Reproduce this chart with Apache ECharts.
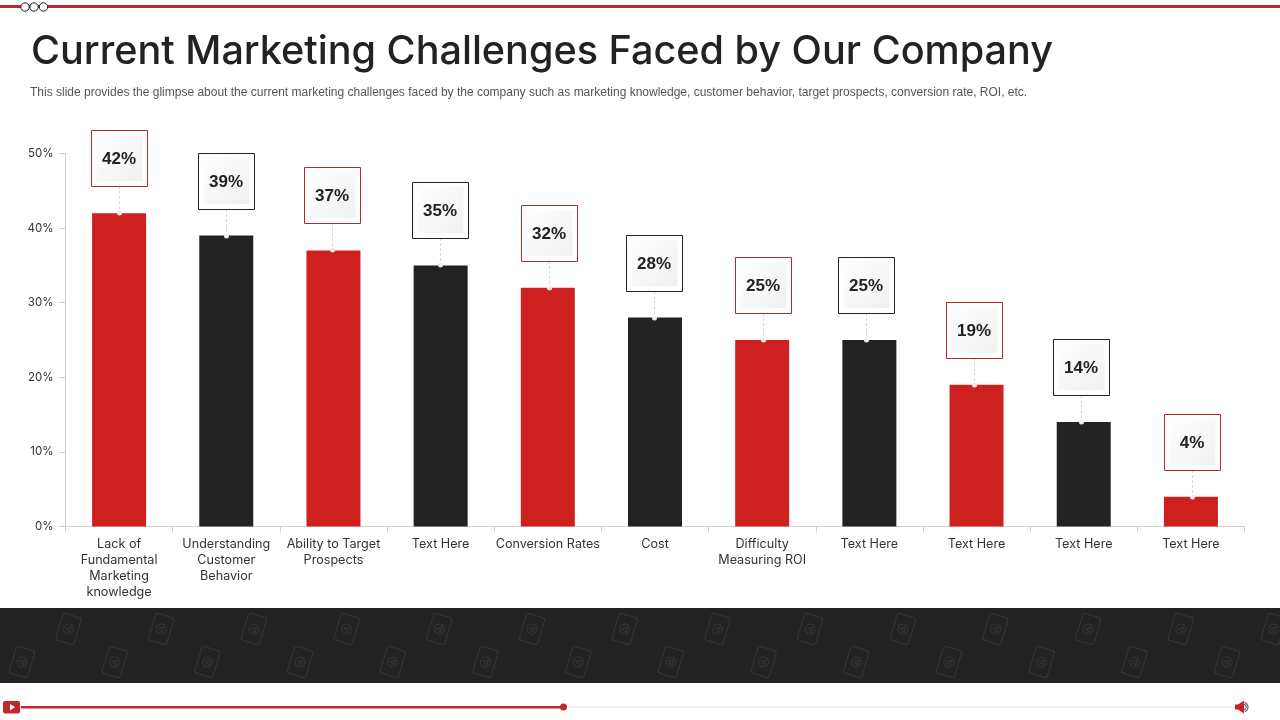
<!DOCTYPE html>
<html><head><meta charset="utf-8">
<style>html,body{margin:0;padding:0;background:#fff}#c{width:1280px;height:720px}</style>
<script src="https://cdn.jsdelivr.net/npm/echarts@6/dist/echarts.min.js"></script>
</head><body><div id="c"></div>
<script>
const titleText = 'Current Marketing Challenges Faced by Our Company';
const subtitleText = 'This slide provides the glimpse about the current marketing challenges faced by the company such as marketing knowledge, customer behavior, target prospects, conversion rate, ROI, etc.';
const categories = ['Lack of\nFundamental\nMarketing\nknowledge','Understanding\nCustomer\nBehavior','Ability to Target\nProspects','Text Here','Conversion Rates','Cost','Difficulty\nMeasuring ROI','Text Here','Text Here','Text Here','Text Here'];
const values = [42,39,37,35,32,28,25,25,19,14,4];
const yTicks = {min:0,max:50,interval:10};

const RED='#cf2020', DARK='#222222', BOXRED='#b5282d';
const colorOf = i => i%2===0 ? RED : DARK;
const calloutShiftX = [0,0,-1,-1,1,-1,1,-3,-3,-3,1];

const chart = echarts.init(document.getElementById('c'),null,{renderer:'canvas',width:1280,height:720});

function renderCallout(params, api){
  const i = api.value(0), v = api.value(1);
  const p = api.coord([i,v]);
  const x = Math.round(p[0]+calloutShiftX[i]), top = Math.round(p[1]);
  const bw = 56, gap = 27, bottom = top-gap, y0 = bottom-bw, stroke = i%2===0?BOXRED:DARK;
  return {type:'group',silent:true,children:[
    {type:'line',shape:{x1:x+.5,y1:bottom,x2:x+.5,y2:top},style:{stroke:'#d9d9d9',lineWidth:1,lineDash:[3,2]}},
    {type:'circle',shape:{cx:x+.5,cy:top,r:2.5},style:{fill:'#eeeeee'}},
    {type:'rect',shape:{x:x-bw/2+.5,y:y0+.5,width:bw,height:bw},style:{fill:'#fff',stroke:stroke,lineWidth:1}},
    {type:'rect',shape:{x:x-22.5,y:y0+5,width:46,height:46},style:{fill:new echarts.graphic.LinearGradient(0,0,1,1,[{offset:0,color:'#ffffff'},{offset:1,color:'#f0f0f0'}])}},
    {type:'text',style:{x:x,y:y0+29,text:v+'%',align:'center',verticalAlign:'middle',fill:DARK,font:'bold 17px "Liberation Sans"'}}
  ]};
}

function phone(x,y){
  const s='#363636';
  return {type:'group',x:x,y:y,rotation:-17*Math.PI/180,silent:true,children:[
    {type:'rect',shape:{x:-9.5,y:-14,width:19,height:28,r:2.5},style:{fill:'none',stroke:s,lineWidth:1}},
    {type:'circle',shape:{cx:0,cy:0,r:5},style:{fill:'none',stroke:s,lineWidth:1}},
    {type:'polygon',shape:{points:[[-2.5,0],[2,-2.5],[2,2.5]]},style:{fill:'none',stroke:s,lineWidth:1}}
  ]};
}
const pattern=[];
for(let k=-1;k<15;k++){ pattern.push(phone(68.5+k*92.7,629)); pattern.push(phone(22+k*92.7,662)); }

chart.setOption({
  animation:false,
  backgroundColor:'#ffffff',
  title:[
    {text:titleText,left:26,top:27,textStyle:{fontFamily:'Inter',fontWeight:500,fontSize:39.6,color:'#222222'}},
    {text:subtitleText,left:25,top:81.5,textStyle:{fontFamily:'Liberation Sans',fontWeight:'normal',fontSize:12,color:'#555555'}}
  ],
  grid:{left:65.5,right:35.5,top:153.5,bottom:193.5,containLabel:false},
  xAxis:{type:'category',data:categories,
    axisLine:{lineStyle:{color:'#d0d0d0'}},
    axisTick:{show:true,length:6,lineStyle:{color:'#d0d0d0'},alignWithLabel:false},
    axisLabel:{interval:0,margin:10,lineHeight:16,fontFamily:'Inter',fontSize:12.6,color:'#333333'}},
  yAxis:{type:'value',min:yTicks.min,max:yTicks.max,interval:yTicks.interval,
    splitLine:{show:false},
    axisLine:{show:true,lineStyle:{color:'#d0d0d0'}},
    axisTick:{show:true,length:6,lineStyle:{color:'#d0d0d0'}},
    axisLabel:{formatter:'{value}%',margin:12,padding:[4,0,0,0],fontFamily:'Inter',fontSize:11.5,color:'#333333'}},
  series:[
    {type:'bar',barWidth:54,data:values.map((v,i)=>({value:v,itemStyle:{color:colorOf(i)}}))},
    {type:'custom',clip:false,z:5,renderItem:renderCallout,encode:{x:0,y:1},data:values.map((v,i)=>[i,v])}
  ],
  graphic:[
    {type:'rect',silent:true,z:-1,shape:{x:0,y:608,width:1280,height:75},style:{fill:'#222222'}},
    {type:'group',silent:true,z:0,children:pattern},
    {type:'rect',silent:true,shape:{x:0,y:5,width:1280,height:3},style:{fill:'#c5262c'}},
    {type:'circle',silent:true,shape:{cx:25,cy:7,r:4.2},style:{fill:'#fff',stroke:'#222',lineWidth:1}},
    {type:'circle',silent:true,shape:{cx:34,cy:7,r:4.2},style:{fill:'#fff',stroke:'#222',lineWidth:1}},
    {type:'circle',silent:true,shape:{cx:43.5,cy:7,r:4.2},style:{fill:'#fff',stroke:'#222',lineWidth:1}},
    {type:'rect',silent:true,shape:{x:21,y:706.5,width:1214,height:1.5},style:{fill:'#eeeeee'}},
    {type:'rect',silent:true,shape:{x:21,y:706,width:542,height:2.5},style:{fill:'#c5262c'}},
    {type:'circle',silent:true,shape:{cx:563.5,cy:707,r:3.5},style:{fill:'#c5262c'}},
    {type:'rect',silent:true,shape:{x:3,y:701,width:17,height:12.5,r:2},style:{fill:'#c5262c'}},
    {type:'polygon',silent:true,shape:{points:[[10,704],[15,707],[10,710.5]]},style:{fill:'#fff'}},
    {type:'polygon',silent:true,shape:{points:[[1235,704.5],[1238,704.5],[1244,700.5],[1244,713.5],[1238,709.5],[1235,709.5]]},style:{fill:'#cf2020'}},
    {type:'arc',silent:true,shape:{cx:1243,cy:707,r:3,startAngle:-1.3,endAngle:1.3},style:{fill:'none',stroke:'#666a80',lineWidth:1.2}},
    {type:'arc',silent:true,shape:{cx:1243,cy:707,r:5,startAngle:-1.2,endAngle:1.2},style:{fill:'none',stroke:'#666a80',lineWidth:1.2}}
  ]
});
</script></body></html>
